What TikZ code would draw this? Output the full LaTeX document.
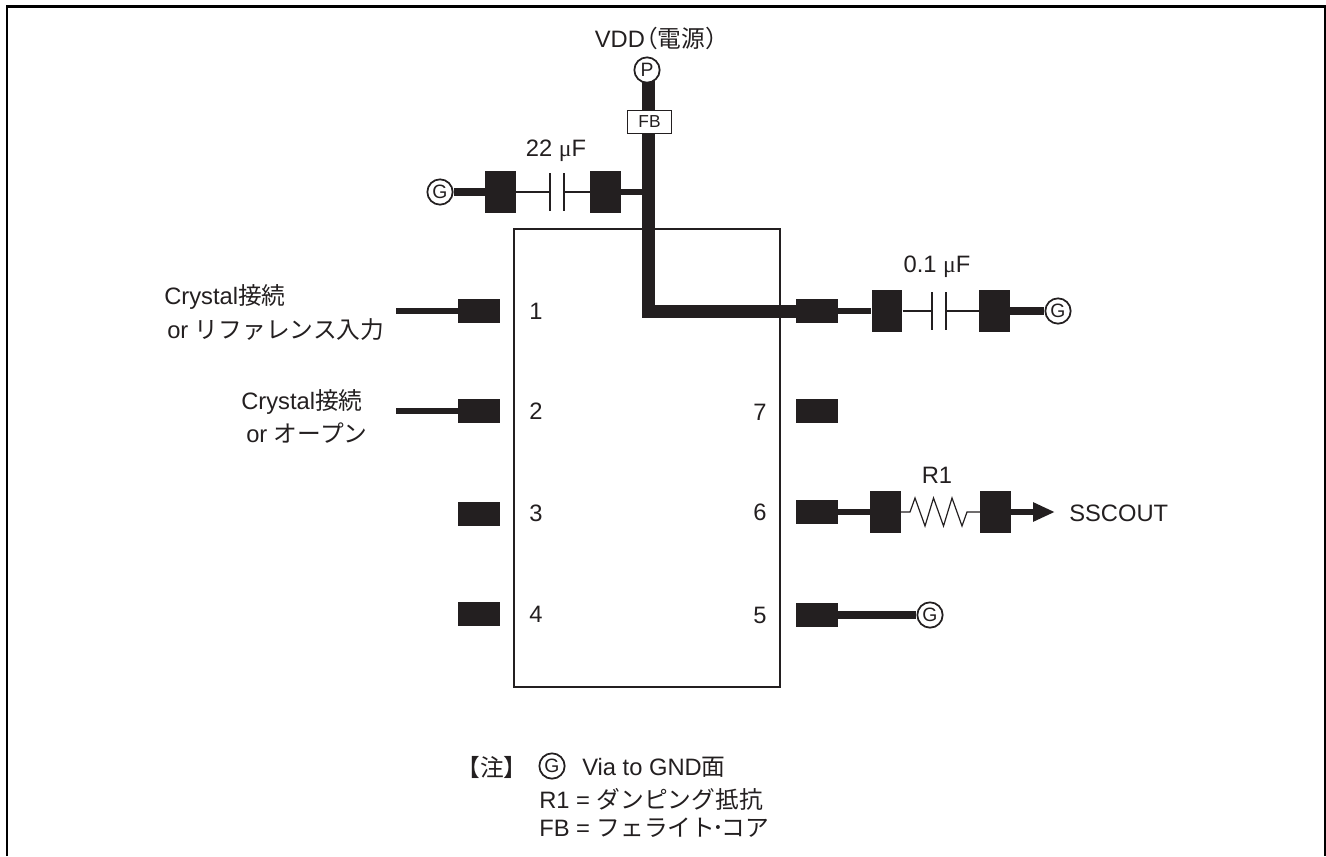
\documentclass[tikz,border=0pt]{standalone}
\usepackage{fontspec}
\setmainfont{Liberation Sans}
\newfontfamily\jp{Noto Sans CJK JP}
\newfontfamily\symb{Liberation Serif}
\usetikzlibrary{arrows.meta}
\definecolor{ink}{HTML}{231F20}
\tikzset{
  label/.style={inner sep=0pt,text=ink,font=\fontsize{17.8}{21}\selectfont},
  smallpad/.style={fill=ink,inner sep=0pt,minimum width=31.5pt,minimum height=18pt},
  bigpad/.style={fill=ink,inner sep=0pt,minimum width=23pt,minimum height=31pt},
  plate/.style={fill=ink,inner sep=0pt,minimum width=1.2pt,minimum height=29pt},
  via/.style={draw=ink,fill=white,circle,line width=1.3pt,inner sep=0pt,minimum size=19pt,text=ink,font=\fontsize{14.5}{16}\selectfont},
  thin wire/.style={draw=ink,line width=0.9pt},
  mid wire/.style={draw=ink,line width=4.2pt},
  fat wire/.style={draw=ink,line width=5.6pt},
  power wire/.style={draw=ink,line width=9.75pt,line join=miter}
}
\begin{document}
\begin{tikzpicture}[x=0.75pt,y=-0.75pt]
    \useasboundingbox (0,0) rectangle (1326,856);
    % frame, open at the bottom
    \draw[black,line width=1.6pt] (7,856) -- (7,6.5) -- (1325,6.5) -- (1325,856);
    % package
    \node[draw=ink,line width=0.9pt,inner sep=0pt,minimum width=199.5pt,minimum height=343.5pt] (chip) at (647,458) {};
    % pads on the package
    \node[smallpad] (padA) at (479,311) {};
    \node[smallpad] (padB) at (479,411) {};
    \node[smallpad] (padC) at (479,514) {};
    \node[smallpad] (padD) at (479,614) {};
    \node[smallpad] (padE) at (817,615) {};
    \node[smallpad] (padF) at (817,512) {};
    \node[smallpad] (padG) at (817,411) {};
    \node[smallpad] (padH) at (817,311) {};
    \node[label] at (536,311) {1};
    \node[label] at (536,411) {2};
    \node[label] at (536,513) {3};
    \node[label] at (536,614) {4};
    \node[label] at (760,615) {5};
    \node[label] at (760,512) {6};
    \node[label] at (760,412) {7};
    % power line
    \node[label] (vdd) at (662,38) {VDD{\jp\hspace{-.45em}（電源）\hspace{-.45em}}};
    \coordinate (feedTop) at (648.5,72);
    \coordinate (branch) at (648.5,192);
    \coordinate (corner) at (648.5,311);
    \draw[power wire] (feedTop) -- (corner) -- (padH.west);
    \node[via] (viaP) at (647,70) {P};
    \node[draw=ink,fill=white,line width=0.8pt,inner sep=0pt,minimum width=33pt,minimum height=17.5pt,text=ink,font=\fontsize{13}{15}\selectfont] (fb) at (649.5,122) {FB};
    % 22 uF
    \node[via] (viaA) at (440,192) {G};
    \node[bigpad] (capAa) at (500.5,192) {};
    \node[bigpad] (capAb) at (605.5,192) {};
    \node[plate] (plAa) at (550,192) {};
    \node[plate] (plAb) at (564,192) {};
    \draw[fat wire] (viaA) -- (capAa);
    \draw[thin wire] (capAa) -- (plAa);
    \draw[thin wire] (plAb) -- (capAb);
    \draw[mid wire] (capAb) -- (branch);
    \node[label] (capAv) at (556,151) {22 {\symb μ}F};
    % 0.1 uF
    \node[bigpad] (capBa) at (887,311) {};
    \node[bigpad] (capBb) at (994.5,311) {};
    \node[plate] (plBa) at (932,311) {};
    \node[plate] (plBb) at (946,311) {};
    \node[via] (viaB) at (1058,311) {G};
    \draw[mid wire] (padH) -- (capBa);
    \draw[thin wire] (capBa) -- (plBa);
    \draw[thin wire] (plBb) -- (capBb);
    \draw[fat wire] (capBb) -- (viaB);
    \node[label] (capBv) at (937,267) {0.1 {\symb μ}F};
    % R1 and output
    \node[bigpad] (resA) at (885.5,512) {};
    \node[bigpad] (resB) at (995.5,512) {};
    \coordinate (outTip) at (1055,512);
    \draw[mid wire] (padF) -- (resA);
    \draw[thin wire,line join=miter] (resA) -- (910,512) -- (915,498) -- (925,526) -- (933.5,498) -- (943.5,526) -- (952,498) -- (962,526) -- (967,512) -- (resB);
    \draw[mid wire,-{Triangle[length=16.5pt,width=13.5pt]}] (resB) -- (outTip);
    \node[label] (resV) at (937,475) {R1};
    \node[label,anchor=west] (out) at (1069,513) {SSCOUT};
    % pin 5 to GND
    \node[via] (viaC) at (930,615) {G};
    \draw[fat wire] (padE) -- (viaC);
    % crystal inputs
    \coordinate (inA) at (396,311);
    \coordinate (inB) at (396,411);
    \draw[mid wire] (inA) -- (padA);
    \draw[mid wire] (inB) -- (padB);
    \node[label,anchor=west] (xtalA) at (164,297) {Crystal{\jp 接続}};
    \node[label,anchor=west] (refA) at (167,330) {or {\jp リファレンス入力}};
    \node[label,anchor=west] (xtalB) at (241,402) {Crystal{\jp 接続}};
    \node[label,anchor=west] (refB) at (246,433) {or {\jp オープン}};
    % notes
    \node[label,anchor=west] (noteHead) at (456,767) {\jp 【注】};
    \node[via] (viaN) at (552,766) {G};
    \node[label,anchor=west] (noteA) at (582,767) {Via to GND{\jp 面}};
    \node[label,anchor=west] (noteB) at (539,799) {R1 = {\jp ダンピング抵抗}};
    \node[label,anchor=west] (noteC) at (539,828) {FB = {\jp フェライト\hspace{-.12em}･\hspace{-.12em}コア}};
\end{tikzpicture}
\end{document}
